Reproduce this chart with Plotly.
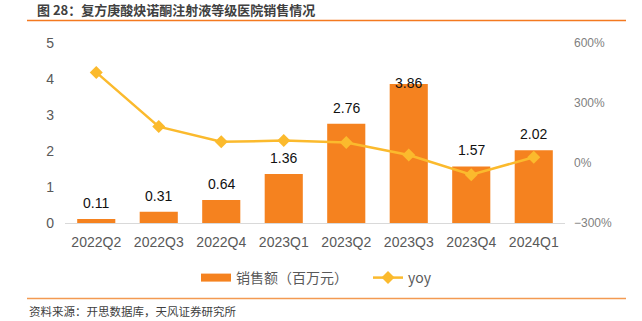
import plotly.graph_objects as go

# Quarterly sales of the injection in graded hospitals
quarters = ["2022Q2", "2022Q3", "2022Q4", "2023Q1", "2023Q2", "2023Q3", "2023Q4", "2024Q1"]
sales = [0.11, 0.31, 0.64, 1.36, 2.76, 3.86, 1.57, 2.02]          # 百万元
yoy = [453, 182, 106, 112, 103, 40, -59, 29]                     # %
left_ticks = [0, 1, 2, 3, 4, 5]
right_ticks = [-300, 0, 300, 600]
right_tick_text = ["\u2212300%", "0%", "300%", "600%"]

W, H = 642, 321
ML, MR, MT, MB = 65, 77, 43, 98
BAR = "#F5821F"
LINE = "#FBBA2D"
FONT = "Liberation Sans, Arial, Noto Sans CJK SC, sans-serif"
CJK = "Noto Sans CJK SC, Liberation Sans, sans-serif"


def px_x(p):
    return (p - ML) / (W - ML - MR)


def px_y(p):
    return 1 - (p - MT) / (H - MT - MB)


fig = go.Figure()

fig.add_trace(go.Bar(
    x=quarters, y=sales, marker_color=BAR, marker_line_width=0,
    showlegend=False, yaxis="y",
))
fig.add_trace(go.Scatter(
    x=quarters, y=yoy, mode="lines+markers", yaxis="y2",
    line=dict(color=LINE, width=2.5),
    marker=dict(symbol="diamond", size=10, color=LINE),
    showlegend=False,
))

# legend entries: a thick line stands in for the bar swatch
fig.add_trace(go.Scatter(
    x=[None], y=[None], mode="lines", name="销售额（百万元）",
    line=dict(color=BAR, width=8),
))
fig.add_trace(go.Scatter(
    x=[None], y=[None], mode="lines+markers", name="yoy", yaxis="y2",
    line=dict(color=LINE, width=2.5),
    marker=dict(symbol="diamond", size=10, color=LINE),
))

# value labels above the bars
for q, v in zip(quarters, sales):
    fig.add_annotation(
        x=q, y=v, xref="x", yref="y", text=f"{v:.2f}", showarrow=False,
        yanchor="bottom", yshift=-9 if v > 3.5 else 6,
        font=dict(family=FONT, size=14, color="#111111"),
    )

fig.update_layout(
    width=W, height=H,
    margin=dict(l=ML, r=MR, t=MT, b=MB),
    paper_bgcolor="white", plot_bgcolor="white",
    bargap=0.39,
    font=dict(family=FONT),
    xaxis=dict(
        showgrid=False, showline=True, linecolor="#D9D9D9", linewidth=1,
        ticks="", tickfont=dict(size=14, color="#595959"),
        ticklabelstandoff=6,
    ),
    yaxis=dict(
        range=[0, 5], tickvals=left_ticks, showgrid=False, zeroline=False,
        showline=False, ticks="", tickfont=dict(size=14, color="#595959"),
        ticklabelstandoff=10,
    ),
    yaxis2=dict(
        range=[-300, 600], tickvals=right_ticks, ticktext=right_tick_text,
        overlaying="y", side="right", showgrid=False, zeroline=False,
        showline=False, ticks="", tickfont=dict(size=12, color="#7F7F7F"),
        ticklabelstandoff=8,
    ),
    legend=dict(
        orientation="h", x=px_x(196), y=px_y(278), xanchor="left", yanchor="middle",
        font=dict(family=CJK, size=14, color="#595959"),
        entrywidth=127, bgcolor="rgba(0,0,0,0)",
    ),
    shapes=[
        dict(type="line", xref="paper", yref="paper",
             x0=px_x(27), x1=px_x(626), y0=px_y(20.5), y1=px_y(20.5),
             line=dict(color="#F47920", width=1.5)),
        dict(type="line", xref="paper", yref="paper",
             x0=px_x(27), x1=px_x(626), y0=px_y(298.5), y1=px_y(298.5),
             line=dict(color="#F39A52", width=1.5)),
    ],
    annotations=list(fig.layout.annotations) + [
        dict(text="<b>图 28：复方庚酸炔诺酮注射液等级医院销售情况</b>",
             xref="paper", yref="paper", x=px_x(35), y=px_y(9),
             xanchor="left", yanchor="middle", showarrow=False,
             font=dict(family=CJK, size=13, color="#404040")),
        dict(text="资料来源：开思数据库，天风证券研究所",
             xref="paper", yref="paper", x=px_x(27), y=px_y(311),
             xanchor="left", yanchor="middle", showarrow=False,
             font=dict(family=CJK, size=11.5, color="#404040")),
    ],
)

fig.write_html("out.html")
